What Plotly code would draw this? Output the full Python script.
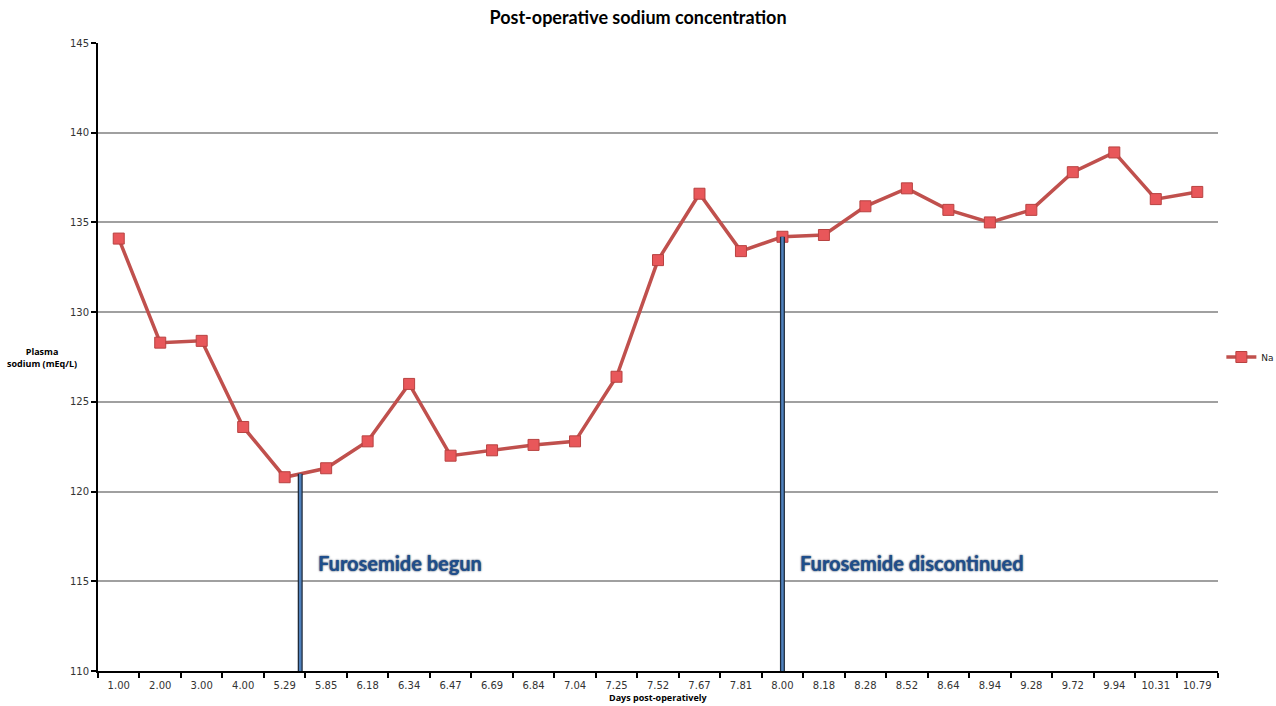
import numpy as np
import plotly.graph_objects as go

# Day of each sodium measurement (category labels) and plasma sodium values
days = ["1.00", "2.00", "3.00", "4.00", "5.29", "5.85", "6.18", "6.34", "6.47",
        "6.69", "6.84", "7.04", "7.25", "7.52", "7.67", "7.81", "8.00", "8.18",
        "8.28", "8.52", "8.64", "8.94", "9.28", "9.72", "9.94", "10.31", "10.79"]
sodium = [134.1, 128.3, 128.4, 123.6, 120.8, 121.3, 122.8, 126.0, 122.0,
          122.3, 122.6, 122.8, 126.4, 132.9, 136.6, 133.4, 134.2, 134.3,
          135.9, 136.9, 135.7, 135.0, 135.7, 137.8, 138.9, 136.3, 136.7]

# Treatment events (day of event, label)
event_days = [5.5, 8.0]
event_labels = ["Furosemide begun", "Furosemide discontinued"]

day_vals = np.array([float(d) for d in days])
idx = np.arange(len(days))

RED = "#c0504d"
fig = go.Figure()

fig.add_trace(go.Scatter(
    x=idx, y=sodium, mode="lines+markers", name="Na",
    line=dict(color=RED, width=3.5),
    marker=dict(symbol="square", size=11, color="#e8575a",
                line=dict(color="#b84240", width=1)),
))

# Event markers: vertical bars from the axis up to the sodium curve
for d, lab in zip(event_days, event_labels):
    xi = float(np.interp(d, day_vals, idx))
    yt = float(np.interp(xi, idx, sodium))
    for col, w in (("#1e2a3a", 5), ("#4f81bd", 2.5)):
        fig.add_trace(go.Scatter(x=[xi, xi], y=[110, yt], mode="lines",
                                 line=dict(color=col, width=w),
                                 showlegend=False, hoverinfo="skip"))
    fig.add_annotation(x=xi + 0.38, y=116.0, text=f"<b>{lab}</b>", showarrow=False,
                       xanchor="left", yanchor="middle",
                       font=dict(family="Lato, Open Sans", size=20, color="#1f4e8c",
                                 shadow="0px 0px 2px #0b1f3a"))

fig.update_layout(
    width=1276, height=706,
    margin=dict(l=98, r=58, t=43, b=35, autoexpand=False),
    paper_bgcolor="white", plot_bgcolor="white",
    title=dict(text="<b>Post-operative sodium concentration</b>", x=0.5, xanchor="center",
               y=0.975, yanchor="middle",
               font=dict(family="Lato, Open Sans", size=18, color="#000")),
    showlegend=True,
    legend=dict(x=1.003, y=0.5, xanchor="left", yanchor="middle",
                font=dict(family="DejaVu Sans", size=9, color="#222"),
                itemwidth=30, bgcolor="rgba(0,0,0,0)"),
    font=dict(family="DejaVu Sans", size=10, color="#333"),
)

fig.update_xaxes(
    type="linear", range=[-0.5, len(days) - 0.5],
    tickmode="array", tickvals=idx, ticktext=days,
    showgrid=False, showline=True, linecolor="#000", linewidth=1.5,
    ticks="", tickfont=dict(size=10, color="#333"), ticklabelstandoff=4,
    zeroline=False,
)
# boundary tick marks drawn as minor ticks between categories
fig.update_xaxes(minor=dict(tickmode="array", tickvals=list(np.arange(-0.5, len(days))),
                            ticks="outside", ticklen=5, tickcolor="#000", tickwidth=1.5,
                            showgrid=False))

fig.update_yaxes(
    range=[110, 145], dtick=5, tick0=110,
    showgrid=True, gridcolor="#a0a0a0", gridwidth=1.5,
    showline=True, linecolor="#000", linewidth=2,
    ticks="outside", ticklen=5, tickcolor="#000", tickwidth=1.5,
    tickfont=dict(size=10, color="#333"), zeroline=False,
)

fig.add_annotation(xref="paper", yref="paper", x=-0.05, y=0.50,
                   text="<b>Plasma<br>sodium (mEq/L)</b>", showarrow=False,
                   xanchor="center", yanchor="middle", align="center",
                   font=dict(family="Open Sans", size=9, color="#000"))
fig.add_annotation(xref="paper", yref="paper", x=0.5, y=-0.0535,
                   text="<b>Days post-operatively</b>", showarrow=False,
                   xanchor="center", yanchor="bottom", borderpad=0,
                   font=dict(family="Open Sans", size=9, color="#000"))

fig.write_html("out.html")
